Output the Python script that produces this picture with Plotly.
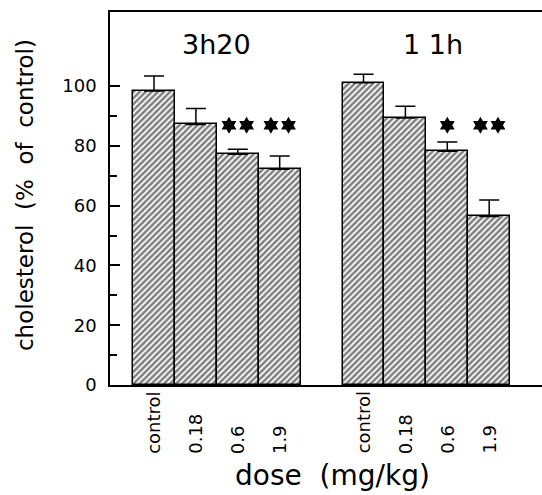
import plotly.graph_objects as go

# ---- data ----
categories = ["control", "0.18", "0.6", "1.9"]
groups = ["3h20", "1 1h"]
values_3h20 = [98.4, 87.2, 77.2, 72.2]
err_3h20 = [5.0, 5.3, 1.7, 4.4]
values_11h = [101.1, 89.3, 78.2, 56.4]
err_11h = [2.9, 4.0, 3.1, 5.5]
stars_3h20 = [0, 0, 2, 2]
stars_11h = [0, 0, 1, 2]
star_level = 86.9
y_ticks = [0, 20, 40, 60, 80, 100]
y_minor = [10, 30, 50, 70, 90]

FONT = "DejaVu Sans"
group_values = [values_3h20, values_11h]
group_errs = [err_3h20, err_11h]
group_stars = [stars_3h20, stars_11h]

fig = go.Figure()
xs, ys, es = [], [], []
sx, sy = [], []
for gi in range(len(groups)):
    for ci in range(len(categories)):
        x = gi * (len(categories) + 1) + ci
        xs.append(x)
        ys.append(group_values[gi][ci])
        es.append(group_errs[gi][ci])
        n = group_stars[gi][ci]
        if n == 1:
            sx.append(x); sy.append(star_level)
        elif n == 2:
            sx += [x - 0.21, x + 0.21]; sy += [star_level, star_level]

fig.add_trace(go.Bar(
    x=xs, y=ys, width=1,
    marker=dict(color="white", line=dict(color="black", width=1.5),
                pattern=dict(shape="/", fgcolor="black", bgcolor="white",
                             size=4.3, solidity=0.6)),
    error_y=dict(type="data", symmetric=False, array=es,
                 arrayminus=[0] * len(es), color="black", thickness=1.5, width=10),
    showlegend=False,
))
fig.add_trace(go.Scatter(
    x=sx, y=sy, mode="markers",
    marker=dict(symbol="hexagram", size=13, color="black"),
    showlegend=False,
))

annotations = []
# x category labels
for gi in range(len(groups)):
    for ci, c in enumerate(categories):
        x = gi * (len(categories) + 1) + ci
        annotations.append(dict(x=x, y=-0.19, xref="x", yref="paper", text=c,
                                textangle=-90, showarrow=False, yanchor="bottom",
                                xanchor="center", font=dict(family=FONT, size=18, color="black")))
# group titles
annotations.append(dict(x=1.48, y=0.912, xref="x", yref="paper", text=groups[0],
                        showarrow=False, xanchor="center", yanchor="middle",
                        font=dict(family=FONT, size=27, color="black")))
annotations.append(dict(x=6.65, y=0.912, xref="x", yref="paper", text=groups[1],
                        showarrow=False, xanchor="center", yanchor="middle",
                        font=dict(family=FONT, size=27, color="black")))
# axis titles
annotations.append(dict(x=0.516, y=-0.292, xref="paper", yref="paper", text="dose  (mg/kg)",
                        showarrow=False, xanchor="center", yanchor="bottom",
                        font=dict(family=FONT, size=28, color="black")))
annotations.append(dict(x=-0.197, y=0.509, xref="paper", yref="paper",
                        text="cholesterol  (%  of  control)", textangle=-90,
                        showarrow=False, xanchor="center", yanchor="middle",
                        font=dict(family=FONT, size=23, color="black")))

fig.update_layout(
    width=542, height=495,
    margin=dict(l=110, r=0, t=12, b=110),
    paper_bgcolor="white", plot_bgcolor="white",
    bargap=0,
    annotations=annotations,
    xaxis=dict(range=[-1.05, 9.26], showline=True, linecolor="black", linewidth=1.5,
               mirror=True, showticklabels=False, ticks="", showgrid=False, zeroline=False),
    yaxis=dict(range=[0, 124.8], showline=True, linecolor="black", linewidth=1.5,
               mirror=False, tickvals=y_ticks, ticks="inside", ticklen=10,
               tickcolor="black", tickwidth=1.5, showgrid=False, zeroline=False,
               tickfont=dict(family=FONT, size=18, color="black"),
               ticklabelstandoff=8,
               minor=dict(tickvals=y_minor, ticks="inside", ticklen=7,
                          tickcolor="black", tickwidth=1.5, showgrid=False)),
)

fig.write_html("out.html", config={"displayModeBar": False},
               post_script="document.body.style.margin='0';")
